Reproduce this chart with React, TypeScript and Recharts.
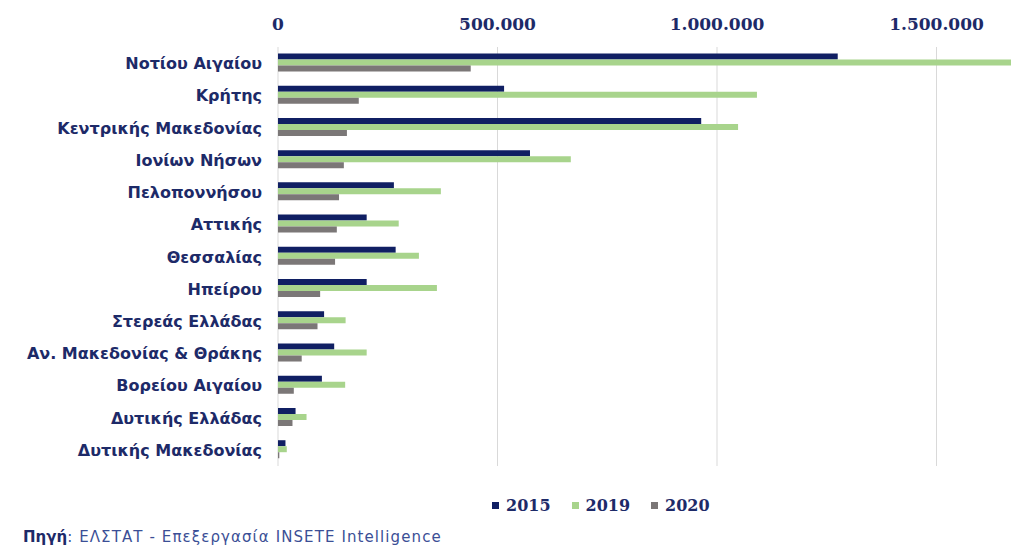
import React from "react";
import { BarChart, Bar, XAxis, YAxis, CartesianGrid, Legend } from "recharts";

const regions = [
  "Νοτίου Αιγαίου",
  "Κρήτης",
  "Κεντρικής Μακεδονίας",
  "Ιονίων Νήσων",
  "Πελοποννήσου",
  "Αττικής",
  "Θεσσαλίας",
  "Ηπείρου",
  "Στερεάς Ελλάδας",
  "Αν. Μακεδονίας & Θράκης",
  "Βορείου Αιγαίου",
  "Δυτικής Ελλάδας",
  "Δυτικής Μακεδονίας",
];

const v2015 = [1275000, 515000, 964000, 574000, 264000, 202000, 268000, 202000, 105000, 128000, 100000, 40000, 17000];
const v2019 = [1850000, 1091000, 1048000, 667000, 371000, 275000, 321000, 362000, 154000, 202000, 153000, 65000, 20000];
const v2020 = [439000, 184000, 157000, 150000, 139000, 134000, 130000, 96000, 90000, 54000, 36000, 33000, 3000];

const xTicks = [0, 500000, 1000000, 1500000];

const series = [
  { key: "y2015", label: "2015", color: "#101f63" },
  { key: "y2019", label: "2019", color: "#a8d48c" },
  { key: "y2020", label: "2020", color: "#7b7777" },
];

const data = regions.map((name, i) => ({
  name,
  y2015: v2015[i],
  y2019: v2019[i],
  y2020: v2020[i],
}));

const NAVY = "#1d2a68";
const SANS = "'DejaVu Sans', Verdana, sans-serif";
const SERIF = "'DejaVu Serif', Cambria, serif";

const fmt = (v: number) => v.toLocaleString("de-DE");

function XTick(props: any) {
  const { x, y, payload } = props;
  return (
    <text x={x} y={y} dy={-9} textAnchor="middle" fill={NAVY} fontSize={17} fontWeight="bold" fontFamily={SERIF}>
      {fmt(payload.value)}
    </text>
  );
}

function YTick(props: any) {
  const { x, y, payload } = props;
  return (
    <text x={x} y={y} dx={-8} dy={6} textAnchor="end" fill={NAVY} fontSize={16} fontWeight="bold" fontFamily={SANS}>
      {payload.value}
    </text>
  );
}

function renderLegend() {
  return (
    <div style={{ display: "flex", gap: 21, fontFamily: SERIF, fontWeight: "bold", fontSize: 16, color: NAVY }}>
      {series.map((s) => (
        <div key={s.key} style={{ display: "flex", alignItems: "center", gap: 7 }}>
          <span style={{ display: "inline-block", width: 7, height: 7, background: s.color }} />
          <span>{s.label}</span>
        </div>
      ))}
    </div>
  );
}

export default function App() {
  return (
    <div style={{ position: "fixed", left: 0, top: 0, width: 1011, height: 548, overflow: "hidden", background: "#fff" }}>
      <BarChart
        width={1156}
        height={548}
        data={data}
        layout="vertical"
        margin={{ top: 17, right: 0, bottom: 63, left: 0 }}
        barCategoryGap="20%"
        barGap={0}
      >
        <CartesianGrid horizontal={false} stroke="#d9d9d9" />
        <XAxis
          type="number"
          orientation="top"
          domain={[0, 2000000]}
          ticks={xTicks}
          axisLine={false}
          tickLine={false}
          height={30}
          tick={<XTick />}
        />
        <YAxis
          type="category"
          dataKey="name"
          width={278}
          axisLine={false}
          tickLine={false}
          tick={<YTick />}
          interval={0}
        />
        {series.map((s) => (
          <Bar key={s.key} dataKey={s.key} name={s.label} fill={s.color} isAnimationActive={false} />
        ))}
        <Legend
          content={renderLegend}
          wrapperStyle={{ position: "absolute", top: 496, left: 492, width: "auto" }}
        />
      </BarChart>
      <div style={{ position: "absolute", left: 23, top: 528, fontFamily: SANS, fontSize: 15, letterSpacing: 1.1, color: "#3b4f96" }}>
        <b style={{ color: NAVY, letterSpacing: 0 }}>Πηγή</b>: ΕΛΣΤΑΤ - Επεξεργασία INSETE Intelligence
      </div>
    </div>
  );
}
